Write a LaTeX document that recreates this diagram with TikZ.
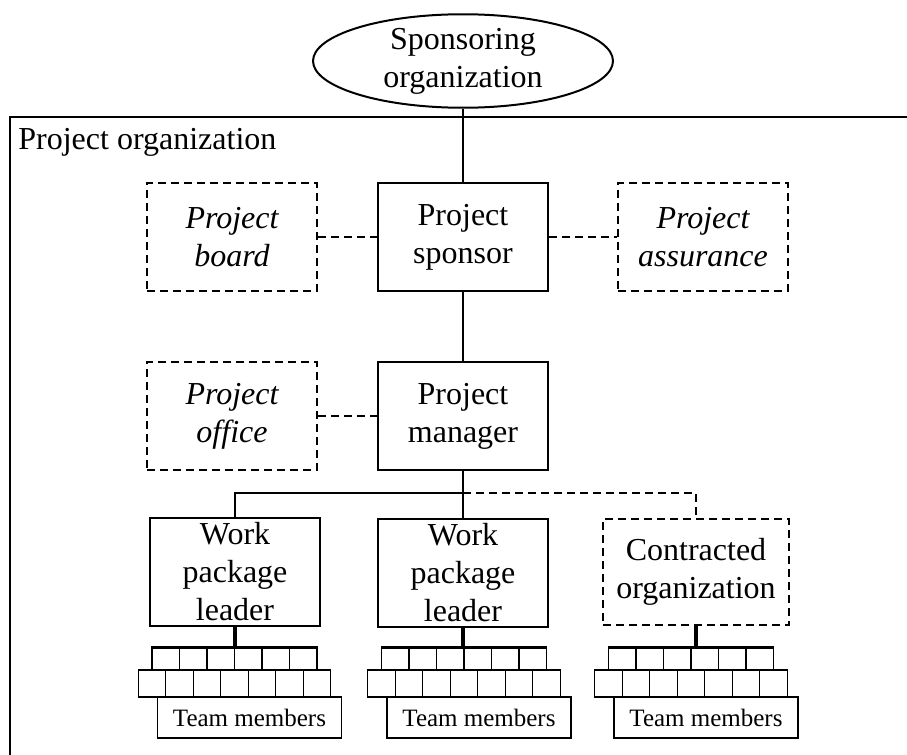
\documentclass[tikz,border=0pt]{standalone}
\usepackage{fontspec}
\setmainfont{Liberation Serif}
\usetikzlibrary{shapes.geometric}

\tikzset{
	unit/.style={draw, line width=1pt, align=center, minimum width=85pt, minimum height=54pt, inner sep=1pt, font=\fontsize{16}{19}\selectfont},
	dunit/.style={unit, dashed, dash pattern=on 4pt off 2.5pt},
	link/.style={line width=1pt},
	dlink/.style={line width=1pt, dash pattern=on 4pt off 2.5pt},
	member/.style={draw, line width=0.6pt, minimum width=13.75pt, inner sep=0pt},
	bus/.style={line width=1.6pt},
	teambox/.style={draw, line width=0.6pt, minimum width=92pt, minimum height=20.5pt, inner sep=0pt, font=\fontsize{12.5}{14}\selectfont}
}

% one group of team members under a leader
\newcommand{\teamgroup}[2]{%
	\foreach \i in {1,...,6}
		\node[member, minimum height=11pt] (#1u\i) at ({#2+(\i-3.5)*27.5},659) {};
	\foreach \i in {1,...,7}
		\node[member, fill=white, minimum height=13.5pt] (#1l\i) at ({#2+(\i-4)*27.5},683.5) {};
	\draw[bus] (#1u1.north west) -- (#1u6.north east);
	\node[teambox, fill=white] (#1t) at ({#2+15},717.5) {Team members};
}

\begin{document}
\begin{tikzpicture}[x=0.5pt, y=-0.5pt]
	\useasboundingbox (0,0) rectangle (907,755);
	\fontsize{16}{19}\selectfont
	% frame of the project organization
	\coordinate (FL) at (10,755);
	\coordinate (FC) at (10,117);
	\coordinate (FR) at (907,117);
	\draw[line width=1pt] (FL)--(FC)--(FR);
	\node[anchor=west, inner sep=0pt] (porg) at (18,142) {Project organization};

	\node[draw, ellipse, line width=1pt, minimum width=150pt, minimum height=37.5pt, inner sep=0pt, align=center] (sorg) at (463,61) {Sponsoring\\organization};

	\node[dunit] (board) at (232,237) {\itshape Project\\\itshape board};
	\node[unit] (sponsor) at (463,237) {Project\\sponsor};
	\node[dunit] (assurance) at (703,237) {\itshape Project\\\itshape assurance};
	\node[dunit] (office) at (232,416) {\itshape Project\\\itshape office};
	\node[unit] (manager) at (463,416) {Project\\manager};
	\node[unit] (wpl1) at (235,572) {Work\\package\\leader};
	\node[unit] (wpl2) at (463,573) {Work\\package\\leader};
	\node[dunit, minimum width=93pt, minimum height=53pt] (contr) at (696,572) {Contracted\\organization};

	\draw[link] (sorg.south)--(sponsor.north);
	\draw[dlink] (board.east)--(sponsor.west);
	\draw[dlink] (sponsor.east)--(assurance.west);
	\draw[link] (sponsor.south)--(manager.north);
	\draw[dlink] (office.east)--(manager.west);

	\coordinate (split) at (463,493);
	\draw[link] (manager.south)--(split)-|(wpl1.north);
	\draw[link] (split)--(wpl2.north);
	\draw[dlink] (split)-|(contr.north);

	\teamgroup{ga}{234.5}
	\teamgroup{gb}{464}
	\teamgroup{gc}{691}
	\draw[bus] (wpl1.south)--(wpl1.south |- gau1.north);
	\draw[bus] (wpl2.south)--(wpl2.south |- gbu1.north);
	\draw[bus] (contr.south)--(contr.south |- gcu1.north);
\end{tikzpicture}
\end{document}
